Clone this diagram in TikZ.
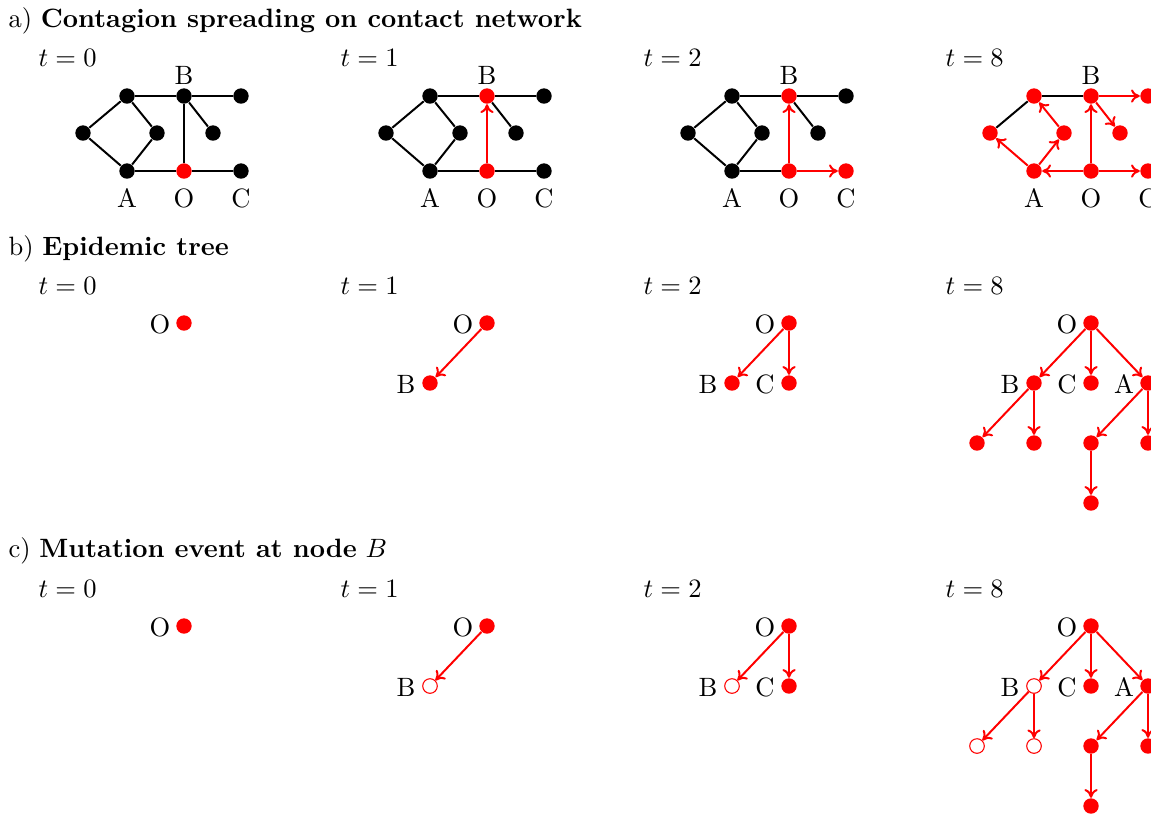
\documentclass[tikz,border=0pt]{standalone}
\usetikzlibrary{arrows.meta}
\newcommand{\netlabels}[2]{%
  \node[lab] (#1labB) at (184+#2,75) {B};
  \node[lab] (#1labA) at (127+#2,198) {A};
  \node[lab] (#1labO) at (184+#2,198) {O};
  \node[lab] (#1labC) at (241+#2,198) {C};
}
\newcommand{\treepanels}[3]{% prefix, Y, style of B and its children
  \node[lab] (#1tt0) [anchor=base west] at (38,#2-29) {$t=0$};
  \node[lab] (#1tt1) [anchor=base west] at (340,#2-29) {$t=1$};
  \node[lab] (#1tt2) [anchor=base west] at (643,#2-29) {$t=2$};
  \node[lab] (#1tt8) [anchor=base west] at (945,#2-29) {$t=8$};
  % t=0
  \node[rdot] (#1zO) at (184,#2) {};
  \node[lab] (#1zOl) at (160,#2+1) {O};
  % t=1
  \node[rdot] (#1aO) at (487,#2) {};
  \node[#3] (#1aB) at (430,#2+60) {};
  \node[lab] (#1aOl) at (463,#2+1) {O};
  \node[lab] (#1aBl) at (406,#2+61) {B};
  \draw[rd] (#1aO) -- (#1aB);
  % t=2
  \node[rdot] (#1bO) at (789,#2) {};
  \node[#3] (#1bB) at (732,#2+60) {};
  \node[rdot] (#1bC) at (789,#2+60) {};
  \node[lab] (#1bOl) at (765,#2+1) {O};
  \node[lab] (#1bBl) at (708,#2+61) {B};
  \node[lab] (#1bCl) at (765,#2+61) {C};
  \draw[rd] (#1bO) -- (#1bB);
  \draw[rd] (#1bO) -- (#1bC);
  % t=8
  \node[rdot] (#1cO) at (1091,#2) {};
  \node[#3] (#1cB) at (1034,#2+60) {};
  \node[rdot] (#1cC) at (1091,#2+60) {};
  \node[rdot] (#1cA) at (1148,#2+60) {};
  \node[#3] (#1cB1) at (977,#2+120) {};
  \node[#3] (#1cB2) at (1034,#2+120) {};
  \node[rdot] (#1cA1) at (1091,#2+120) {};
  \node[rdot] (#1cA2) at (1148,#2+120) {};
  \node[rdot] (#1cA11) at (1091,#2+180) {};
  \node[lab] (#1cOl) at (1067,#2+1) {O};
  \node[lab] (#1cBl) at (1010,#2+61) {B};
  \node[lab] (#1cCl) at (1067,#2+61) {C};
  \node[lab] (#1cAl) at (1124,#2+61) {A};
  \draw[rd] (#1cO) -- (#1cB);
  \draw[rd] (#1cO) -- (#1cC);
  \draw[rd] (#1cO) -- (#1cA);
  \draw[rd] (#1cB) -- (#1cB1);
  \draw[rd] (#1cB) -- (#1cB2);
  \draw[rd] (#1cA) -- (#1cA1);
  \draw[rd] (#1cA) -- (#1cA2);
  \draw[rd] (#1cA1) -- (#1cA11);
}
\begin{document}
\begin{tikzpicture}[x=0.377pt,y=-0.377pt,
  dot/.style={circle,fill=black,inner sep=0pt,minimum size=5.8pt},
  rdot/.style={dot,fill=red},
  odot/.style={circle,draw=red,fill=white,line width=0.4pt,inner sep=0pt,minimum size=5.5pt},
  lab/.style={inner sep=0pt},
  bl/.style={line width=0.75pt,black},
  rd/.style={line width=0.75pt,red,-{To[length=3.3pt,width=5pt]}}]
\clip (0,0) rectangle (1151,813);
% titles
\node[lab,anchor=base west] (ta) at (8,27) {a) \textbf{Contagion spreading on contact network}};
\node[lab,anchor=base west] (tb) at (8,255) {b) \textbf{Epidemic tree}};
\node[lab,anchor=base west] (tc) at (8,557) {c) \textbf{Mutation event at node} $B$};
\node[lab,anchor=base west] (at0) at (38,66) {$t=0$};
\node[lab,anchor=base west] (at1) at (340,66) {$t=1$};
\node[lab,anchor=base west] (at2) at (643,66) {$t=2$};
\node[lab,anchor=base west] (at8) at (945,66) {$t=8$};
% ---------- network t=0
\node[dot] (p0TL) at (127,96) {};
\node[dot] (p0B) at (184,96) {};
\node[dot] (p0TR) at (241,96) {};
\node[dot] (p0L) at (83,133) {};
\node[dot] (p0M) at (157,133) {};
\node[dot] (p0R) at (213,133) {};
\node[dot] (p0A) at (127,171) {};
\node[rdot] (p0O) at (184,171) {};
\node[dot] (p0C) at (241,171) {};
\netlabels{p0}{0}
% ---------- network t=1
\node[dot] (p1TL) at (430,96) {};
\node[rdot] (p1B) at (487,96) {};
\node[dot] (p1TR) at (544,96) {};
\node[dot] (p1L) at (386,133) {};
\node[dot] (p1M) at (460,133) {};
\node[dot] (p1R) at (516,133) {};
\node[dot] (p1A) at (430,171) {};
\node[rdot] (p1O) at (487,171) {};
\node[dot] (p1C) at (544,171) {};
\netlabels{p1}{303}
% ---------- network t=2
\node[dot] (p2TL) at (732,96) {};
\node[rdot] (p2B) at (789,96) {};
\node[dot] (p2TR) at (846,96) {};
\node[dot] (p2L) at (688,133) {};
\node[dot] (p2M) at (762,133) {};
\node[dot] (p2R) at (818,133) {};
\node[dot] (p2A) at (732,171) {};
\node[rdot] (p2O) at (789,171) {};
\node[rdot] (p2C) at (846,171) {};
\netlabels{p2}{605}
% ---------- network t=8
\node[rdot] (p3TL) at (1034,96) {};
\node[rdot] (p3B) at (1091,96) {};
\node[rdot] (p3TR) at (1148,96) {};
\node[rdot] (p3L) at (990,133) {};
\node[rdot] (p3M) at (1064,133) {};
\node[rdot] (p3R) at (1120,133) {};
\node[rdot] (p3A) at (1034,171) {};
\node[rdot] (p3O) at (1091,171) {};
\node[rdot] (p3C) at (1148,171) {};
\netlabels{p3}{907}
% edges t=0
\draw[bl] (p0TL) -- (p0B); \draw[bl] (p0B) -- (p0TR);
\draw[bl] (p0TL) -- (p0L); \draw[bl] (p0L) -- (p0A);
\draw[bl] (p0TL) -- (p0M); \draw[bl] (p0M) -- (p0A);
\draw[bl] (p0A) -- (p0O); \draw[bl] (p0O) -- (p0C);
\draw[bl] (p0B) -- (p0O); \draw[bl] (p0B) -- (p0R);
% edges t=1
\draw[bl] (p1TL) -- (p1B); \draw[bl] (p1B) -- (p1TR);
\draw[bl] (p1TL) -- (p1L); \draw[bl] (p1L) -- (p1A);
\draw[bl] (p1TL) -- (p1M); \draw[bl] (p1M) -- (p1A);
\draw[bl] (p1A) -- (p1O); \draw[bl] (p1O) -- (p1C);
\draw[bl] (p1B) -- (p1R);
\draw[rd] (p1O) -- (p1B);
% edges t=2
\draw[bl] (p2TL) -- (p2B); \draw[bl] (p2B) -- (p2TR);
\draw[bl] (p2TL) -- (p2L); \draw[bl] (p2L) -- (p2A);
\draw[bl] (p2TL) -- (p2M); \draw[bl] (p2M) -- (p2A);
\draw[bl] (p2A) -- (p2O);
\draw[bl] (p2B) -- (p2R);
\draw[rd] (p2O) -- (p2B);
\draw[rd] (p2O) -- (p2C);
% edges t=8
\draw[bl] (p3TL) -- (p3B);
\draw[bl] (p3TL) -- (p3L);
\draw[rd] (p3O) -- (p3B);
\draw[rd] (p3O) -- (p3C);
\draw[rd] (p3O) -- (p3A);
\draw[rd] (p3B) -- (p3TR);
\draw[rd] (p3B) -- (p3R);
\draw[rd] (p3A) -- (p3L);
\draw[rd] (p3A) -- (p3M);
\draw[rd] (p3M) -- (p3TL);
% trees
\treepanels{b}{323}{rdot}
\treepanels{c}{626}{odot}
\end{tikzpicture}
\end{document}
